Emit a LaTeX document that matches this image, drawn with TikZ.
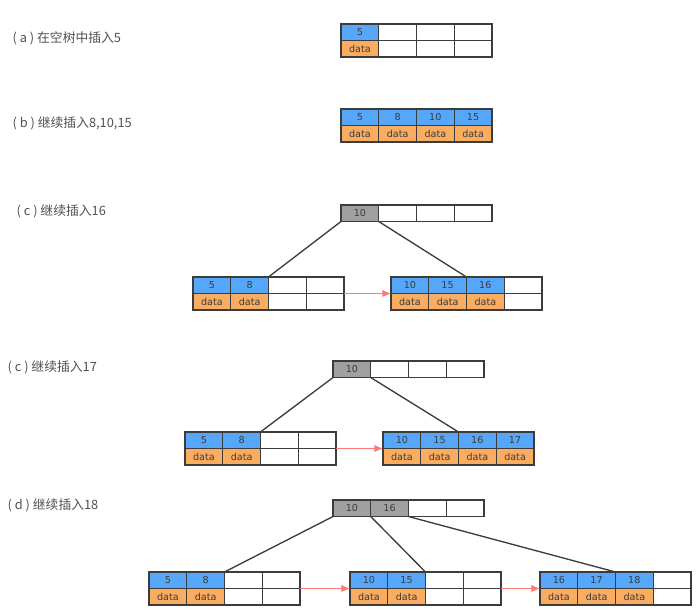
\documentclass[tikz,border=0pt]{standalone}
\usepackage{fontspec}
\newfontfamily\cjk{Noto Sans CJK SC}
\newfontfamily\cellfont{DejaVu Sans}
\usetikzlibrary{positioning, arrows.meta}

\definecolor{keyblue}{RGB}{86,166,250}
\definecolor{dataorange}{RGB}{250,172,96}
\definecolor{rootgray}{RGB}{160,160,160}
\definecolor{edgegray}{RGB}{60,60,60}
\definecolor{linkred}{RGB}{255,120,120}
\definecolor{labelgray}{RGB}{80,80,80}

\begin{document}
\begin{tikzpicture}[x=0.75pt, y=-0.75pt,
  cell/.style={draw=edgegray, line width=1pt, fill=white, minimum width=\cellw, minimum height=\cellh, inner sep=0pt, outer sep=0pt, text=edgegray, font=\cellfont\fontsize{7.2}{8}\selectfont},
  keycell/.style={cell, fill=keyblue},
  datacell/.style={cell, fill=dataorange},
  rootcell/.style={cell, fill=rootgray},
  treeline/.style={draw=edgegray, line width=1pt},
  leaflink/.style={draw=linkred, line width=0.8pt, -{Latex[length=6.5pt, width=5.5pt]}},
  casetitle/.style={anchor=west, text=labelgray, font=\cjk\fontsize{9.6}{11}\selectfont}]
  \newcommand\cellw{28.3pt}
  \newcommand\cellh{12.4pt}

  \useasboundingbox (0,0) rectangle (697,611);

  \node[casetitle] (ta) at (8,38) {(~a~) 在空树中插入5};
  \node[casetitle] (tb) at (8,123) {(~b~) 继续插入8,10,15};
  \node[casetitle] (tc) at (12,211) {(~c~) 继续插入16};
  \node[casetitle] (td) at (3,367) {(~c~) 继续插入17};
  \node[casetitle] (te) at (3,505) {(~d~) 继续插入18};

  % leaves: name/left/top/keys
  \foreach \blk/\px/\py/\keys in {a/341/24/{5}, b/341/109/{5,8,10,15}, cl1/193/277/{5,8}, cl2/391/277/{10,15,16}, dl1/185/432/{5,8}, dl2/383/432/{10,15,16,17}, el1/149/572/{5,8}, el2/350/572/{10,15}, el3/540/572/{16,17,18}}{
    \coordinate (\blk-k0) at (\px,\py+8.25);
    \foreach \poid [count=\prev from 0] in {1,...,4}{
      \node[cell, right=0pt of \blk-k\prev] (\blk-k\poid) {};
      \node[cell, below=0pt of \blk-k\poid] (\blk-d\poid) {};
    }
    \foreach \key [count=\poid] in \keys{
      \node[keycell] at (\blk-k\poid) (\blk-key\poid) {\key};
      \node[datacell] at (\blk-d\poid) (\blk-val\poid) {data};
    }
  }

  % roots
  \foreach \blk/\px/\py/\keys in {cr/341/205/{10}, dr/333/361/{10}, er/333/500/{10,16}}{
    \coordinate (\blk-k0) at (\px,\py+8.25);
    \foreach \poid [count=\prev from 0] in {1,...,4}
      \node[cell, right=0pt of \blk-k\prev] (\blk-k\poid) {};
    \foreach \key [count=\poid] in \keys
      \node[rootcell] at (\blk-k\poid) (\blk-key\poid) {\key};
  }

  \draw[treeline] (cr-k1.south west) -- (cl1-k2.north east);
  \draw[treeline] (cr-k1.south east) -- (cl2-k2.north east);
  \draw[treeline] (dr-k1.south west) -- (dl1-k2.north east);
  \draw[treeline] (dr-k1.south east) -- (dl2-k2.north east);
  \draw[treeline] (er-k1.south west) -- (el1-k2.north east);
  \draw[treeline] (er-k1.south east) -- (el2-k2.north east);
  \draw[treeline] (er-k2.south east) -- (el3-k2.north east);

  \draw[leaflink] (cl1-k4.south east) -- (cl2-k1.south west);
  \draw[leaflink] (dl1-k4.south east) -- (dl2-k1.south west);
  \draw[leaflink] (el1-k4.south east) -- (el2-k1.south west);
  \draw[leaflink] (el2-k4.south east) -- (el3-k1.south west);
\end{tikzpicture}
\end{document}
